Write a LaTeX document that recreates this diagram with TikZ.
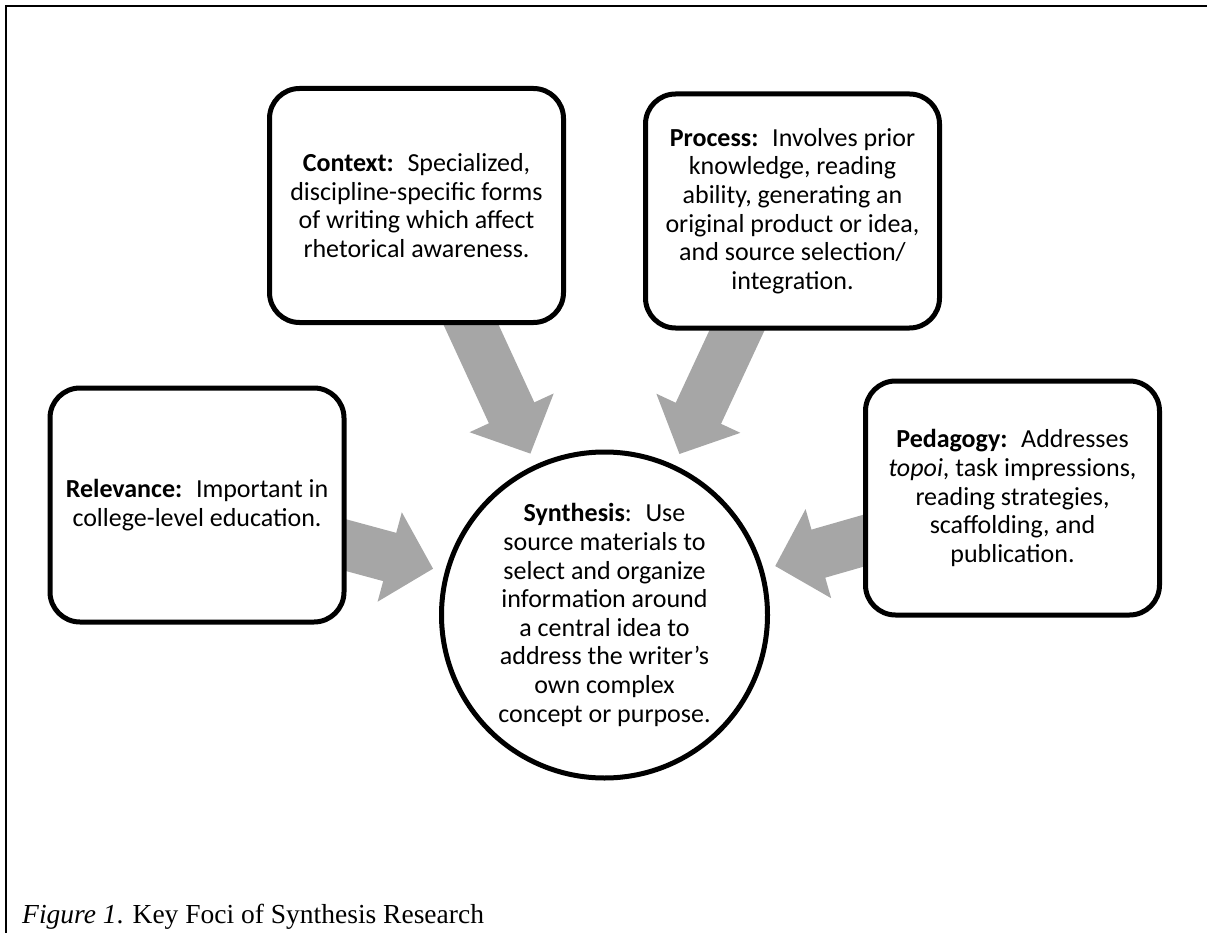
\documentclass[tikz,border=0pt]{standalone}
\usepackage{fontspec}
\setmainfont{Carlito}
\newfontfamily\captionfont{Liberation Serif}
\usetikzlibrary{arrows.meta,backgrounds}
\definecolor{arrowgray}{RGB}{166,166,166}
\tikzset{
  focus/.style={draw, line width=5pt, rounded corners=30pt, fill=white,
    minimum width=294pt, minimum height=234pt, inner sep=0pt, align=center,
    font=\fontsize{26pt}{28.6pt}\selectfont},
  core/.style={draw, circle, line width=5pt, fill=white, minimum size=326pt,
    inner sep=0pt, align=center, font=\fontsize{26pt}{28.6pt}\selectfont},
  feed/.style={arrowgray, line width=50pt, -{Triangle[length=45pt,width=90pt]},
    shorten >=12pt, shorten <=-40pt}
}
\begin{document}
\begin{tikzpicture}[x=1pt,y=-1pt]
  \useasboundingbox (0,0) rectangle (1207,933);
  \draw[line width=2pt] (6,933) -- (6,6) -- (1207,6);
  % boxes round the centre
  \node[focus] (ctx) at (416.5,205.5) {\textbf{Context:}~ Specialized,\\discipline-specific forms\\of writing which affect\\rhetorical awareness.};
  \node[focus] (proc) at (792.5,211) {\textbf{Process:}~ Involves prior\\knowledge, reading\\ability, generating an\\original product or idea,\\and source selection/\\integration.};
  \node[focus] (rel) at (197,505) {\textbf{Relevance:}~ Important in\\college-level education.};
  \node[focus] (ped) at (1012.5,498) {\textbf{Pedagogy:}~ Addresses\\\textit{topoi}, task impressions,\\reading strategies,\\scaffolding, and\\publication.};
  \node[core] (syn) at (604.5,615) {\textbf{Synthesis}:~ Use\\source materials to\\select and organize\\information around\\a central idea to\\address the writer’s\\own complex\\concept or purpose.};
  \begin{scope}[on background layer]
    \foreach \src in {ctx,proc,rel,ped} \draw[feed] (\src) -- (syn);
  \end{scope}
  \node[anchor=base west, inner sep=0pt, font=\captionfont\fontsize{27.5pt}{32pt}\selectfont] (cap) at (22,923) {\textit{Figure 1}. Key Foci of Synthesis Research};
\end{tikzpicture}
\end{document}
